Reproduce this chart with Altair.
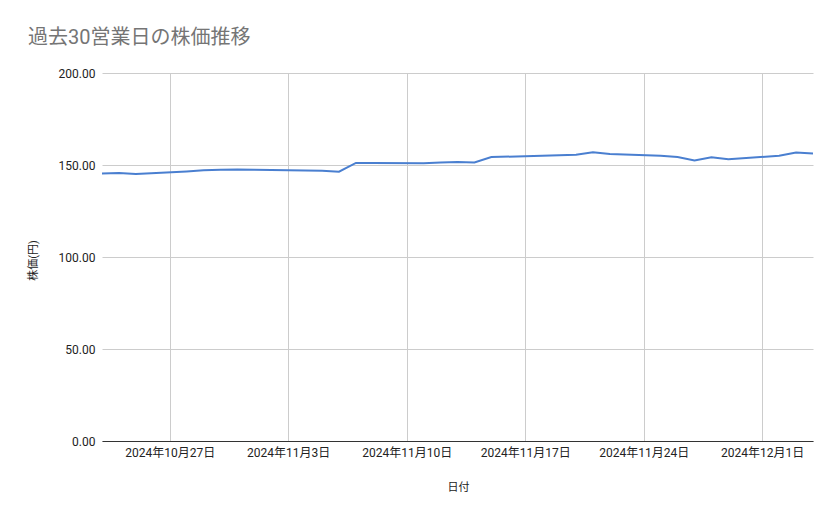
import altair as alt
import pandas as pd

dates = [
    "2024-10-23", "2024-10-24", "2024-10-25",
    "2024-10-28", "2024-10-29", "2024-10-30", "2024-10-31", "2024-11-01",
    "2024-11-05", "2024-11-06", "2024-11-07", "2024-11-08",
    "2024-11-11", "2024-11-12", "2024-11-13", "2024-11-14", "2024-11-15",
    "2024-11-18", "2024-11-19", "2024-11-20", "2024-11-21", "2024-11-22",
    "2024-11-25", "2024-11-26", "2024-11-27", "2024-11-28", "2024-11-29",
    "2024-12-02", "2024-12-03", "2024-12-04",
]
prices = [
    145.4, 145.6, 145.1,
    146.5, 147.1, 147.4, 147.6, 147.4,
    146.9, 146.4, 151.1, 151.1,
    150.9, 151.3, 151.6, 151.4, 154.3,
    155.0, 155.3, 155.6, 156.9, 156.0,
    155.0, 154.3, 152.5, 154.2, 153.1,
    155.0, 156.8, 156.3,
]
y_ticks = [0, 50, 100, 150, 200]
x_ticks = [(2024, 10, 27), (2024, 11, 3), (2024, 11, 10), (2024, 11, 17), (2024, 11, 24), (2024, 12, 1)]

df = pd.DataFrame({"日付": dates, "株価(円)": prices})

FONT = "Roboto, 'Noto Sans CJK JP', sans-serif"

x_vals = [alt.DateTime(year=y, month=m, date=d, utc=True) for (y, m, d) in x_ticks]

chart = alt.Chart(df).mark_line(color="#4a7fd0", strokeWidth=2).encode(
    x=alt.X(
        "日付:T",
        scale=alt.Scale(
            type="utc",
            domain=[alt.DateTime(year=2024, month=10, date=23, utc=True),
                    alt.DateTime(year=2024, month=12, date=4, utc=True)],
            nice=False,
        ),
        axis=alt.Axis(
            values=x_vals,
            format="%Y年%-m月%-d日",
            labelFont=FONT, labelFontSize=12, labelColor="#222222",
            labelPadding=6, tickSize=0,
            domainColor="#333333", domainWidth=1,
            grid=True, gridColor="#cccccc",
            title="日付", titleFont=FONT, titleFontSize=11, titleFontWeight="normal",
            titleColor="#222222", titleX=356, titleY=46, titleBaseline="middle",
            titleAlign="center",
        ),
    ),
    y=alt.Y(
        "株価(円):Q",
        scale=alt.Scale(domain=[0, 200], nice=False, zero=True),
        axis=alt.Axis(
            values=y_ticks, format=".2f",
            labelFont=FONT, labelFontSize=12, labelColor="#222222",
            labelPadding=7, tickSize=0, domain=False,
            grid=True, gridColor="#cccccc",
            title="株価(円)", titleFont=FONT, titleFontSize=11, titleFontWeight="normal",
            titleColor="#222222", titleX=-69, titleY=187, titleAngle=-90,
            titleBaseline="middle", titleAlign="center",
        ),
    ),
).properties(
    width=711,
    height=368,
    autosize=alt.AutoSizeParams(type="none"),
    padding={"left": 94, "top": 65, "right": 18, "bottom": 70},
    title=alt.TitleParams(
        "過去30営業日の株価推移",
        anchor="start", frame="group", font=FONT, fontSize=20,
        fontWeight="normal", color="#757575", dx=-74, offset=19,
    ),
).configure_view(stroke=None)

chart.save("out.html", embed_options={"renderer": "svg", "actions": False})
